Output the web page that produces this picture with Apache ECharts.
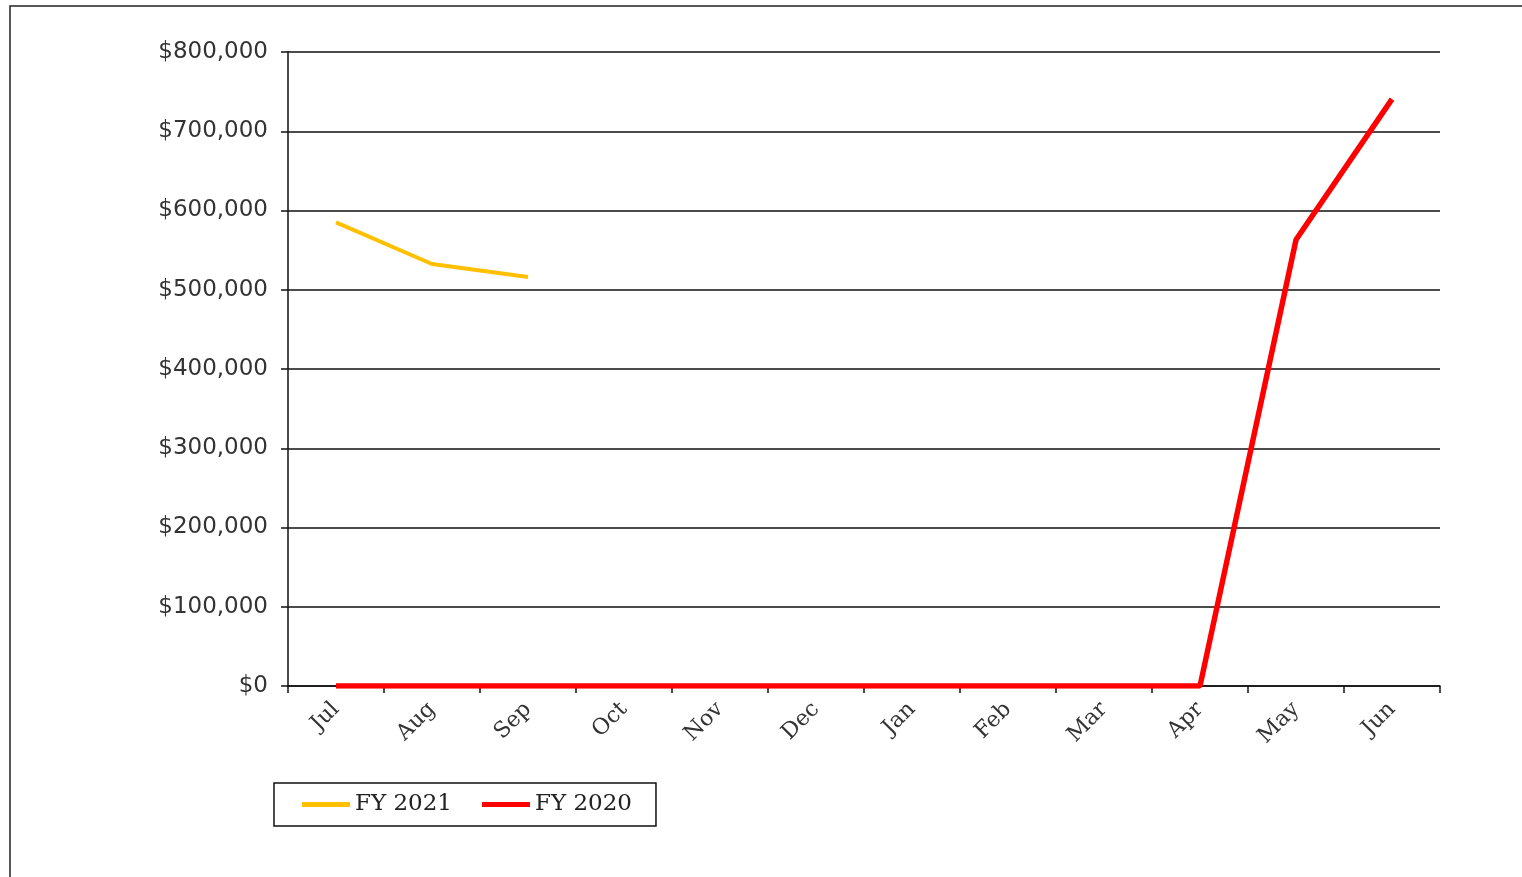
<!DOCTYPE html>
<html><head><meta charset="utf-8">
<script src="https://cdn.jsdelivr.net/npm/echarts@6/dist/echarts.min.js"></script>
<style>html,body{margin:0;padding:0;background:#fff;}#c{width:1522px;height:877px;}</style>
</head><body><div id="c"></div>
<script>
var months = ['Jul','Aug','Sep','Oct','Nov','Dec','Jan','Feb','Mar','Apr','May','Jun'];
var fy2021 = [585000, 532500, 516000, null, null, null, null, null, null, null, null, null];
var fy2020 = [0, 0, 0, 0, 0, 0, 0, 0, 0, 0, 563000, 740500];
var yTicks = [0, 100000, 200000, 300000, 400000, 500000, 600000, 700000, 800000];

var chart = echarts.init(document.getElementById('c'));
chart.setOption({
  animation: false,
  backgroundColor: '#fff',
  graphic: [{type:'rect', shape:{x:10, y:6, width:1600, height:1000}, style:{fill:'none', stroke:'#222', lineWidth:1.5}}],
  grid: {left: 288, right: 82, top: 52, bottom: 191},
  legend: {
    left: 274, top: 783,
    orient: 'horizontal',
    borderColor: '#111', borderWidth: 1.5,
    padding: [10, 24, 10, 28],
    itemGap: 30, itemWidth: 48, itemHeight: 5,
    textStyle: {fontFamily: 'DejaVu Serif', fontSize: 23, color: '#222'},
    data: [
      {name: 'FY 2021', icon: 'path://M0,0 L48,0 L48,5 L0,5 Z'},
      {name: 'FY 2020', icon: 'path://M0,0 L48,0 L48,5 L0,5 Z'}
    ]
  },
  xAxis: {
    type: 'category', data: months, boundaryGap: true,
    axisLine: {lineStyle: {color: '#111', width: 1.5}},
    axisTick: {show: true, length: 7, alignWithLabel: false, lineStyle: {color: '#111', width: 1.5}},
    axisLabel: {rotate: 45, fontFamily: 'DejaVu Serif', fontSize: 22, color: '#333', margin: 20}
  },
  yAxis: {
    type: 'value', min: 0, max: 800000, interval: 100000,
    axisLine: {show: true, lineStyle: {color: '#111', width: 1.5}},
    axisTick: {show: true, length: 7, lineStyle: {color: '#111', width: 1.5}},
    splitLine: {show: true, lineStyle: {color: '#111', width: 1.5}},
    axisLabel: {fontFamily: 'DejaVu Sans', fontSize: 23, color: '#333', margin: 20,
      formatter: function (v) { return '$' + v.toLocaleString('en-US'); }}
  },
  series: [
    {name: 'FY 2021', type: 'line', data: fy2021, showSymbol: false, symbol: 'none',
     color: '#FFC000', lineStyle: {color: '#FFC000', width: 4}, connectNulls: false},
    {name: 'FY 2020', type: 'line', data: fy2020, showSymbol: false, symbol: 'none',
     color: '#FF0000', lineStyle: {color: '#FF0000', width: 5.5}}
  ]
});
</script></body></html>
